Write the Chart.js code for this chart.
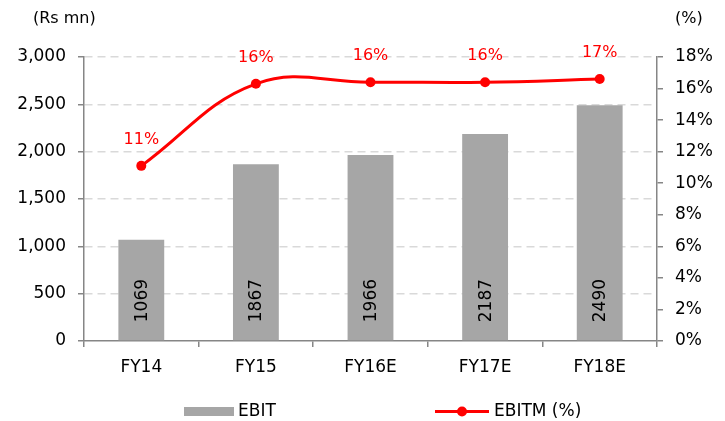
<!DOCTYPE html>
<html>
<head>
<meta charset="utf-8">
<script src="https://cdn.jsdelivr.net/npm/chart.js@4"></script>
<style>
  body { margin: 0; background: #fff; }
  #wrap { width: 725px; height: 421px; }
</style>
</head>
<body>
<div id="wrap"><canvas id="myChart" width="725" height="421"></canvas></div>
<script>
    // chart data
    const categories = ["FY14", "FY15", "FY16E", "FY17E", "FY18E"];
    const ebit = [1069, 1867, 1966, 2187, 2490];
    const ebitm = [11.1, 16.3, 16.4, 16.4, 16.6];
    const leftAxis = [0, 3000, 500];   // min, max, step
    const rightAxis = [0, 18, 2];

    const FONT = "'DejaVu Sans', sans-serif";
    Chart.defaults.font.family = FONT;
    Chart.defaults.font.size = 17;
    Chart.defaults.color = "#000";

    // labels, axis titles and legend
    const textPlugin = {
        id: "textPlugin",
        afterDraw: function (chart) {
            const ctx = chart.ctx;
            ctx.save();

            // axis titles
            ctx.font = "16px " + FONT;
            ctx.fillStyle = "#000";
            ctx.textBaseline = "middle";
            ctx.textAlign = "left";
            ctx.fillText("(Rs mn)", 33, 19);
            ctx.fillText("(%)", 675, 19);

            // bar values, rotated, near the base
            ctx.font = "17px " + FONT;
            const barMeta = chart.getDatasetMeta(0);
            barMeta.data.forEach(function (bar, i) {
                ctx.save();
                ctx.translate(bar.x, bar.base - 18);
                ctx.rotate(-Math.PI / 2);
                ctx.textAlign = "left";
                ctx.textBaseline = "middle";
                ctx.fillStyle = "#000";
                ctx.fillText(String(ebit[i]), 0, 1);
                ctx.restore();
            });

            // line values
            const lineMeta = chart.getDatasetMeta(1);
            ctx.font = "16px " + FONT;
            ctx.fillStyle = "#FF0000";
            ctx.textAlign = "center";
            lineMeta.data.forEach(function (pt, i) {
                ctx.fillText(Math.round(ebitm[i]) + "%", pt.x, pt.y - 26);
            });

            // legend
            ctx.font = "17px " + FONT;
            ctx.fillStyle = "#A6A6A6";
            ctx.fillRect(184, 407, 50, 9);
            ctx.fillStyle = "#000";
            ctx.textAlign = "left";
            ctx.fillText("EBIT", 238, 412);

            ctx.strokeStyle = "#FF0000";
            ctx.lineWidth = 3;
            ctx.beginPath();
            ctx.moveTo(435, 411.5);
            ctx.lineTo(489, 411.5);
            ctx.stroke();
            ctx.fillStyle = "#FF0000";
            ctx.beginPath();
            ctx.arc(462, 411.5, 5, 0, Math.PI * 2);
            ctx.fill();
            ctx.fillStyle = "#000";
            ctx.fillText("EBITM (%)", 494, 412);

            ctx.restore();
        },
    };

    const ctx = document.getElementById("myChart");
    new Chart(ctx, {
        type: "bar",
        data: {
            labels: categories,
            datasets: [
                {
                    label: "EBIT",
                    data: ebit,
                    backgroundColor: "#A6A6A6",
                    barPercentage: 0.4,
                    categoryPercentage: 1,
                    yAxisID: "y",
                    order: 2,
                },
                {
                    label: "EBITM (%)",
                    type: "line",
                    data: ebitm,
                    borderColor: "#FF0000",
                    backgroundColor: "#FF0000",
                    borderWidth: 3,
                    pointRadius: 5,
                    pointBackgroundColor: "#FF0000",
                    pointBorderWidth: 0,
                    tension: 0.4,
                    yAxisID: "y1",
                    order: 1,
                },
            ],
        },
        options: {
            responsive: false,
            animation: false,
            layout: {
                padding: { left: 0, right: 0, top: 57, bottom: 40 },
            },
            plugins: {
                legend: { display: false },
                tooltip: { enabled: false },
            },
            scales: {
                x: {
                    offset: true,
                    grid: {
                        display: true,
                        drawOnChartArea: false,
                        offset: true,
                        tickLength: 6,
                        color: "#868686",
                        lineWidth: 1.5,
                    },
                    border: { color: "#868686", width: 1.5 },
                    ticks: { padding: 10 },
                    afterFit: function (scale) {
                        scale.height = 40;
                    },
                },
                y: {
                    position: "left",
                    min: leftAxis[0],
                    max: leftAxis[1],
                    ticks: {
                        stepSize: leftAxis[2],
                        padding: 12,
                        callback: function (v) {
                            return v.toLocaleString("en-US");
                        },
                    },
                    grid: {
                        color: function (c) {
                            return c.tick && c.tick.value === 0 ? "rgba(0,0,0,0)" : "#D9D9D9";
                        },
                        lineWidth: 1.5,
                        tickLength: 6,
                        tickColor: "#868686",
                    },
                    border: { color: "#868686", width: 1.5, dash: [8, 5] },
                    afterFit: function (scale) {
                        scale.width = 84;
                    },
                },
                y1: {
                    position: "right",
                    min: rightAxis[0],
                    max: rightAxis[1],
                    ticks: {
                        stepSize: rightAxis[2],
                        padding: 12,
                        callback: function (v) {
                            return v + "%";
                        },
                    },
                    grid: {
                        drawOnChartArea: false,
                        tickLength: 6,
                        color: "#868686",
                        lineWidth: 1.5,
                    },
                    border: { color: "#868686", width: 1.5 },
                    afterFit: function (scale) {
                        scale.width = 68;
                    },
                },
            },
        },
        plugins: [textPlugin],
    });
</script>
</body>
</html>
